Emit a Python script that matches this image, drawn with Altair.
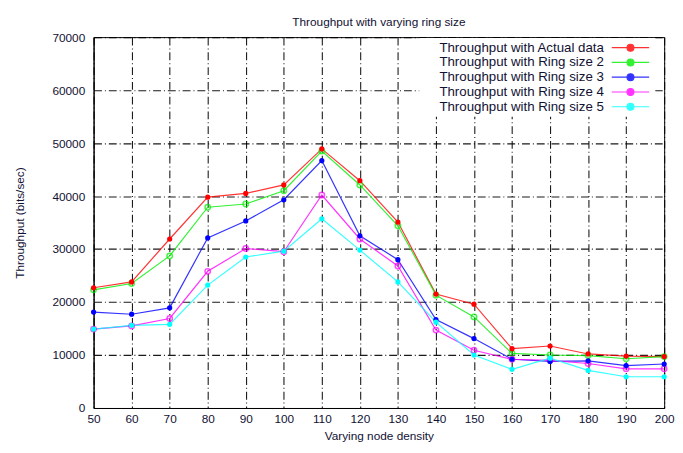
import altair as alt
import pandas as pd

density = [50, 60, 70, 80, 90, 100, 110, 120, 130, 140, 150, 160, 170, 180, 190, 200]
actual = [22700, 23800, 31900, 39800, 40500, 42100, 48900, 42900, 35100, 21500, 19600, 11200, 11700, 10200, 9800, 9700]
ring2 = [22300, 23500, 28700, 37900, 38500, 41000, 48500, 42100, 34400, 21300, 17200, 10300, 10000, 9900, 9300, 9700]
ring3 = [18100, 17700, 18900, 32100, 35300, 39300, 46700, 32500, 28000, 16700, 13100, 9200, 8800, 8900, 8000, 8300]
ring4 = [14900, 15500, 16900, 25800, 30100, 29500, 40200, 31900, 26800, 14700, 10900, 9200, 9000, 8400, 7400, 7400]
ring5 = [14900, 15600, 15800, 23200, 28500, 29600, 35700, 29800, 23800, 16200, 10000, 7300, 9400, 7100, 5900, 5900]

series_names = [
    "Throughput with Actual data",
    "Throughput with Ring size 2",
    "Throughput with Ring size 3",
    "Throughput with Ring size 4",
    "Throughput with Ring size 5",
]
series_values = [actual, ring2, ring3, ring4, ring5]
series_filled = [True, False, True, False, True]
colors = ["#ff0000", "#00ee00", "#0000ff", "#ff00ff", "#00ffff"]
y_ticks = [0, 10000, 20000, 30000, 40000, 50000, 60000, 70000]

rows = []
for name, vals, filled in zip(series_names, series_values, series_filled):
    for d, v in zip(density, vals):
        rows.append({"density": d, "throughput": v, "series": name, "filled": filled})
df = pd.DataFrame(rows)

color = alt.Color(
    "series:N",
    sort=series_names,
    scale=alt.Scale(domain=series_names, range=colors),
    legend=alt.Legend(
        title=None,
        orient="none",
        legendX=331,
        legendY=1,
        fillColor="white",
        padding=3,
        labelFont="Liberation Sans",
        labelFontSize=13.5,
        labelColor="#111133",
        labelLimit=500,
        labelAlign="left",
        labelOffset=4,
        rowPadding=0,
        symbolType="M37.2,0H44.8M40.3,0a0.7,0.7 0 1,0 1.4,0a0.7,0.7 0 1,0 -1.4,0",
        symbolSize=100,
        symbolStrokeWidth=1.2,
    ),
)

base = alt.Chart(df).encode(
    x=alt.X(
        "density:Q",
        scale=alt.Scale(domain=[50, 200], nice=False),
        axis=alt.Axis(
            title="Varying node density",
            values=density,
            format="d",
            grid=True,
            gridColor="black",
            gridDash=[8, 3, 1, 3],
            gridOpacity=0.9,
            gridWidth=1.1,
            ticks=False,
            labelFlush=False,
            labelPadding=6,
            titlePadding=6,
        ),
    ),
    y=alt.Y(
        "throughput:Q",
        scale=alt.Scale(domain=[0, 70000], nice=False),
        axis=alt.Axis(
            title="Throughput (bits/sec)",
            values=y_ticks,
            format="d",
            grid=True,
            gridColor="black",
            gridDash=[8, 3, 1, 3],
            gridOpacity=0.9,
            gridWidth=1.1,
            ticks=False,
            labelFlush=False,
            labelPadding=9,
            titlePadding=26,
        ),
    ),
    color=color,
)

lines = base.mark_line(strokeWidth=1.2, opacity=0.8)
points_filled = base.transform_filter("datum.filled").mark_point(
    size=28, filled=True, opacity=1, shape="circle"
)
points_open = base.transform_filter("!datum.filled").mark_point(
    size=30, filled=False, strokeWidth=1.5, shape="circle"
)

chart = (
    alt.layer(lines, points_open, points_filled)
    .properties(
        width=580,
        height=377,
        padding={"left": 5, "top": 5, "right": 0, "bottom": 0},
        title=alt.TitleParams(
            "Throughput with varying ring size",
            font="Liberation Sans",
            fontSize=12,
            fontWeight="normal",
            color="#111133",
            offset=2,
        ),
    )
    .configure_view(stroke="black", strokeWidth=1)
    .configure_axis(
        labelFont="Liberation Sans",
        titleFont="Liberation Sans",
        labelFontSize=12,
        titleFontSize=12,
        titleFontWeight="normal",
        labelColor="#111133",
        titleColor="#111133",
        domainColor="black",
    )
)

chart.save("out.html", embed_options={"renderer": "svg", "actions": False})
